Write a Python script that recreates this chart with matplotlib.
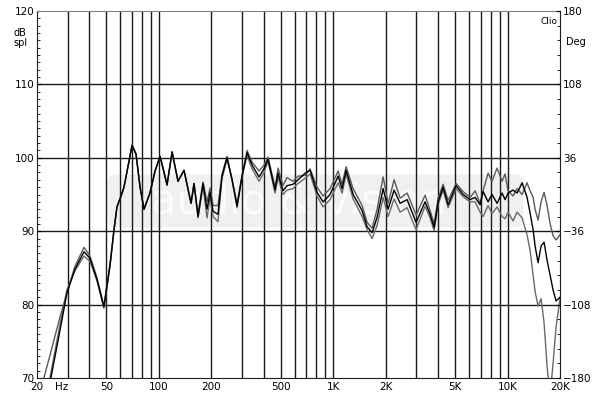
import matplotlib
matplotlib.use("Agg")
import matplotlib.pyplot as plt
from matplotlib.patches import FancyBboxPatch
import numpy as np

freq = [20, 21.9, 23.8, 27.1, 29.7, 33.0, 37.2, 40.3, 44.2, 48.4,
        52.5, 55.3, 57.5, 60.7, 63.1, 66.5, 70.2, 74.0, 78.0, 82.2,
        88.9, 95.1, 101.6, 107.1, 111.4, 119.1, 128.8, 139.4, 153.0, 159.1,
        167.8, 179.2, 188.9, 196.7, 204.6, 218.4, 230.3, 246.1, 263.1, 280.8,
        300.1, 320.7, 342.7, 375.7, 401, 423, 464, 483, 515, 543,
        589, 628, 690, 737, 808, 875, 960, 1067, 1125, 1186,
        1301, 1466, 1565, 1672, 1787, 1934, 2066, 2236, 2421, 2655,
        2989, 3366, 3597, 3793, 4000, 4270, 4563, 5072, 5562, 6098,
        6517, 6966, 7245, 7735, 8149, 8710, 9310, 9682, 10070, 10760,
        11350, 12130, 12950, 13470, 14020, 14390, 14970, 15580, 16210, 16870,
        17550, 18250, 18990, 20000]

spl_a = [66.5, 70.0, 73.2, 78.3, 81.6, 85.2, 87.8, 86.6, 83.6, 79.8,
         85.6, 90.2, 93.3, 94.8, 96.0, 98.8, 101.7, 100.5, 96.0, 93.0,
         95.2, 98.2, 100.2, 98.0, 96.3, 100.8, 96.8, 98.3, 93.8, 96.5,
         92.3, 96.7, 94.0, 95.9, 93.5, 93.5, 97.8, 100.2, 97.0, 93.8,
         97.5, 101.0, 99.4, 98.2, 99.0, 100.1, 96.0, 98.6, 96.2, 97.3,
         96.8, 97.5, 97.6, 98.5, 96.0, 94.8, 95.8, 98.2, 96.4, 98.8,
         95.8, 93.5, 91.2, 90.4, 93.0, 97.4, 93.8, 97.0, 94.5, 95.2,
         92.2, 94.9, 92.8, 91.0, 94.5, 96.4, 94.2, 96.5, 95.4, 94.6,
         95.5, 93.8, 95.5, 97.9, 96.8, 98.6, 96.8, 97.8, 95.5, 94.8,
         95.8, 95.0, 96.6, 95.5, 94.6, 93.0, 91.5, 94.0, 95.3, 93.5,
         91.0, 89.4, 88.8, 89.5]

spl_b = [59.5, 64.8, 69.5, 76.5, 81.6, 84.8, 87.2, 86.3, 83.4, 79.7,
         85.4, 90.2, 93.3, 94.8, 96.0, 98.8, 101.7, 100.5, 96.0, 93.0,
         95.2, 98.2, 100.2, 98.0, 96.3, 100.8, 96.8, 98.3, 93.8, 96.5,
         92.0, 96.5, 93.0, 95.3, 92.7, 92.3, 97.5, 100.0, 97.0, 93.4,
         97.5, 100.7, 99.0, 97.4, 98.5, 99.8, 95.6, 97.9, 95.5, 96.2,
         96.4, 97.0, 97.9, 98.3, 95.3, 94.0, 95.0, 97.5, 95.8, 98.3,
         95.0, 92.8, 90.6, 89.8, 91.9, 95.8, 93.0, 95.6, 93.8, 94.3,
         91.2, 94.0, 92.3, 90.5, 94.0, 96.0, 93.6, 96.2, 95.0, 94.3,
         94.6, 93.6, 95.4, 94.0, 95.0, 93.8, 95.2, 94.3, 95.2, 95.6,
         95.2, 96.6, 94.6, 92.5, 90.2, 88.0, 85.7, 88.0, 88.5, 86.0,
         84.0, 82.0, 80.5, 81.0]

spl_c = [60.5, 65.5, 70.2, 77.3, 82.0, 84.6, 86.6, 85.9, 83.2, 79.5,
         85.3, 90.2, 93.3, 94.8, 96.0, 98.8, 101.7, 100.5, 96.0, 93.0,
         95.2, 98.2, 100.2, 98.0, 96.3, 100.8, 96.8, 98.3, 93.8, 96.5,
         91.8, 96.2, 91.8, 94.6, 92.0, 91.3, 97.2, 99.8, 97.0, 93.2,
         97.5, 100.3, 98.5, 96.8, 98.0, 99.5, 95.2, 97.3, 95.0, 95.6,
         95.8, 96.5, 97.2, 97.8, 94.8, 93.3, 94.3, 96.6, 95.2, 97.8,
         94.4, 92.0, 90.2, 89.0, 90.8, 94.6, 92.0, 94.4, 92.6, 93.2,
         90.2, 93.4, 91.8, 90.1, 93.6, 95.6, 93.2, 95.8, 94.7, 94.0,
         94.0, 92.6, 92.0, 93.5, 92.4, 93.3, 92.0, 91.7, 92.6, 91.4,
         92.6, 91.8, 89.5, 87.4, 84.0, 81.8, 79.8, 80.8, 77.5, 71.5,
         67.5, 72.0, 77.0, 80.8]

left_ticks = [70, 80, 90, 100, 110, 120]
right_ticks = [-180, -108, -36, 36, 108, 180]
x_labels = [(20, "20"), (50, "50"), (100, "100"), (200, "200"), (500, "500"),
            (1000, "1K"), (2000, "2K"), (5000, "5K"), (10000, "10K"), (20000, "20K")]

fig = plt.figure(figsize=(6.0, 3.96), dpi=100)
ax = fig.add_axes([37/600, 1-378/396, 523/600, 367/396])
ax.set_xscale("log")
ax.set_xlim(20, 20000)
ax.set_ylim(70, 120)

# watermark band
band = FancyBboxPatch((0.135, 0.41), 0.795, 0.145, boxstyle="round,pad=0,rounding_size=0.02",
                      transform=ax.transAxes, facecolor="#f0f0f0", edgecolor="none", zorder=0)
ax.add_patch(band)
ax.text(0.5, 0.48, "audio & vision", transform=ax.transAxes, ha="center", va="center",
        fontsize=30, color="#fbfbfb", zorder=0.5)

# grid
vlines = []
for dec in [10, 100, 1000, 10000]:
    for m in range(1, 10):
        v = dec * m
        if 20 < v < 20000:
            vlines.append(v)
for v in vlines:
    ax.axvline(v, color="#1a1a1a", lw=1.0, zorder=1)
for h in [80, 90, 100, 110]:
    ax.axhline(h, color="#1a1a1a", lw=1.0, zorder=1)

ax.plot(freq, spl_c, color="#6a6a6a", lw=1.0, zorder=3)
ax.plot(freq, spl_a, color="#5a5a5a", lw=1.0, zorder=3)
ax.plot(freq, spl_b, color="#000000", lw=1.0, zorder=4)

for s in ["top", "right"]:
    ax.spines[s].set_color("#808080")
ax.spines["left"].set_color("#202020")
ax.spines["bottom"].set_color("#202020")

ax.set_yticks(left_ticks)
ax.set_yticks(np.arange(70, 121, 1), minor=True)
ax.tick_params(axis="y", which="major", direction="in", length=3, labelsize=7.5, pad=2)
ax.tick_params(axis="y", which="minor", direction="in", length=2)
ax.set_xticks([])
ax.set_xticks([], minor=True)
ax.tick_params(axis="x", which="both", length=0, labelbottom=False)

ax2 = ax.twinx()
ax2.set_ylim(-180, 180)
ax2.set_yticks(right_ticks)
ax2.set_yticks(np.arange(-180, 181, 14.4), minor=True)
ax2.tick_params(axis="y", which="major", direction="in", length=3, labelsize=7.5, pad=2)
ax2.tick_params(axis="y", which="minor", direction="in", length=2)
for s in ["top", "left", "bottom"]:
    ax2.spines[s].set_visible(False)
ax2.spines["right"].set_color("#202020")

xt = ax.get_xaxis_transform()
ylab = -9.0 / 367.0
for f, lab in x_labels:
    ax.text(f, ylab, lab, transform=xt, ha="center", va="center", fontsize=7.5)
ax.text(27.8, ylab, "Hz", transform=xt, ha="center", va="center", fontsize=7.5)

fig.text(20/600, 1-38/396, "dB\nspl", ha="center", va="center", fontsize=7, linespacing=0.95)
fig.text(576/600, 1-42/396, "Deg", ha="center", va="center", fontsize=7)
ax.text(0.995, 0.985, "Clio", transform=ax.transAxes, ha="right", va="top", fontsize=6.5)

fig.savefig("out.png", dpi=100)
